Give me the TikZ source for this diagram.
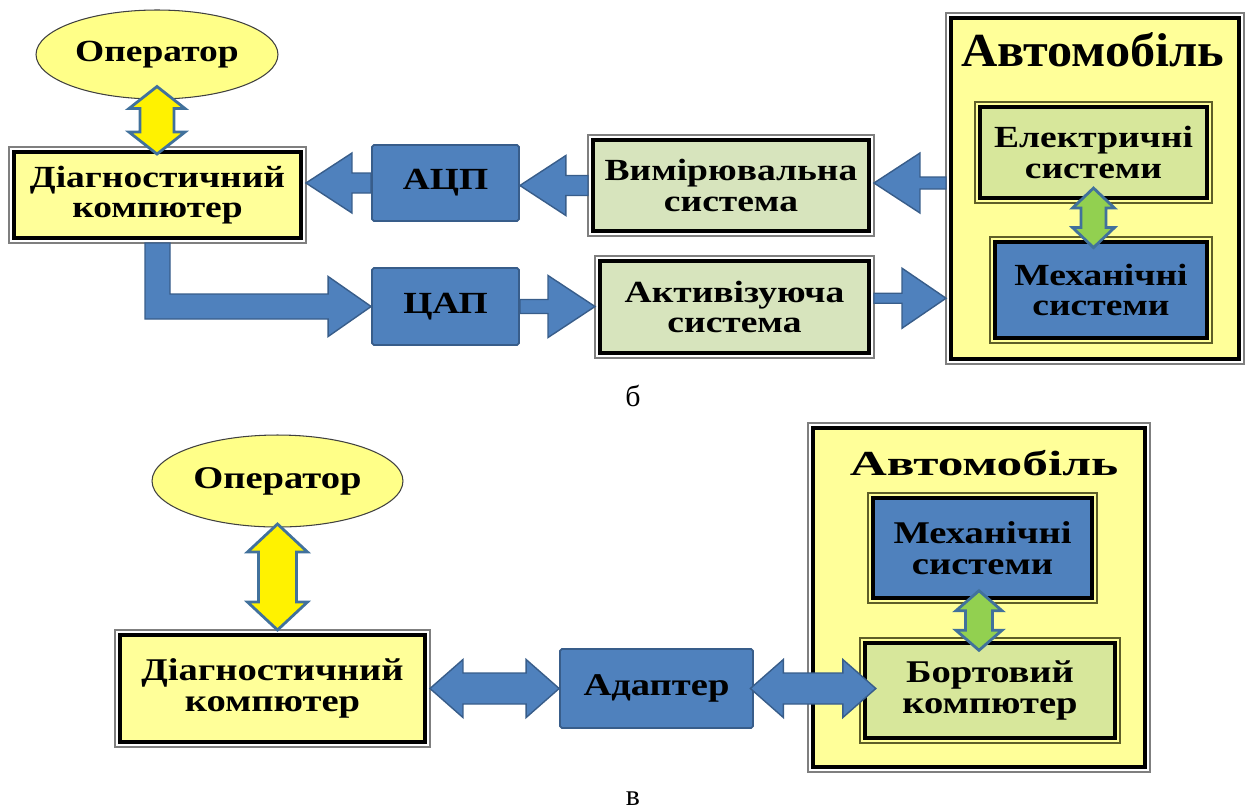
\documentclass[tikz,border=0pt]{standalone}
\usepackage{fontspec}
\setmainfont{Liberation Serif}
\newfontfamily\boxfont{Liberation Serif}[FakeStretch=1.22]
\newfontfamily\carfont{Liberation Serif}[FakeStretch=1.06]
\newfontfamily\carfontb{Liberation Serif}[FakeStretch=1.46]
\usetikzlibrary{shapes.geometric, calc}

\definecolor{boxyellow}{HTML}{FFFF99}
\definecolor{ovalyellow}{HTML}{FFFF88}
\definecolor{blockblue}{HTML}{4F81BD}
\definecolor{edgeblue}{HTML}{385D8A}
\definecolor{arrowedge}{HTML}{41719C}
\definecolor{palegreen}{HTML}{D7E4BD}
\definecolor{limegreen}{HTML}{D7E79B}
\definecolor{brightgreen}{HTML}{92D050}
\definecolor{framegray}{HTML}{7F7F7F}
\definecolor{frameolive}{HTML}{5E5E28}

\def\pxu{0.5691pt}

% block arrows, sizes in px
\newcommand{\harrow}[5]{%
	\draw[barrow] let \p1=(#1), \p2=(#2), \n1={#5*0.5691} in
		(\x1,{\y1+#3*\pxu}) -- ({\x2-\n1 pt},{\y1+#3*\pxu}) -- ({\x2-\n1 pt},{\y1+#4*\pxu})
		-- (\x2,\y1) -- ({\x2-\n1 pt},{\y1-#4*\pxu}) -- ({\x2-\n1 pt},{\y1-#3*\pxu})
		-- (\x1,{\y1-#3*\pxu}) -- cycle;}
\newcommand{\hdarrow}[5]{%
	\draw[barrow] let \p1=(#1), \p2=(#2) in
		(\p1) -- ({\x1+#5*\pxu},{\y1+#4*\pxu}) -- ({\x1+#5*\pxu},{\y1+#3*\pxu})
		-- ({\x2-#5*\pxu},{\y1+#3*\pxu}) -- ({\x2-#5*\pxu},{\y1+#4*\pxu}) -- (\x2,\y1)
		-- ({\x2-#5*\pxu},{\y1-#4*\pxu}) -- ({\x2-#5*\pxu},{\y1-#3*\pxu})
		-- ({\x1+#5*\pxu},{\y1-#3*\pxu}) -- ({\x1+#5*\pxu},{\y1-#4*\pxu}) -- cycle;}
\newcommand{\vdarrow}[6][barrow]{%
	\draw[#1] let \p1=(#2), \p2=(#3) in
		(\p1) -- ({\x1+#5*\pxu},{\y1-#6*\pxu}) -- ({\x1+#4*\pxu},{\y1-#6*\pxu})
		-- ({\x1+#4*\pxu},{\y2+#6*\pxu}) -- ({\x1+#5*\pxu},{\y2+#6*\pxu}) -- (\x1,\y2)
		-- ({\x1-#5*\pxu},{\y2+#6*\pxu}) -- ({\x1-#4*\pxu},{\y2+#6*\pxu})
		-- ({\x1-#4*\pxu},{\y1-#6*\pxu}) -- ({\x1-#5*\pxu},{\y1-#6*\pxu}) -- cycle;}

\begin{document}
\begin{tikzpicture}[x=0.02cm, y=-0.02cm,
		txt/.style={font=\boxfont\bfseries\fontsize{17.5}{17.5}\selectfont, align=center, inner sep=0pt},
		dbl/.style={txt, draw=black, line width=2.3pt, outer sep=2.85pt},
		oval/.style={txt, ellipse, draw=black!75, line width=0.6pt, fill=ovalyellow},
		block/.style={txt, draw=edgeblue, line width=1pt, fill=blockblue, rounded corners=1pt},
		barrow/.style={draw=edgeblue, line width=0.8pt, fill=blockblue},
		yarrow/.style={draw=arrowedge, line width=1.6pt, fill=yellow},
		garrow/.style={draw=arrowedge, line width=1.6pt, fill=brightgreen},
		frame/.style={draw=framegray, line width=0.7pt}]
	\useasboundingbox (0,0) rectangle (1246,809);

	% --- б ---
	\node[dbl, fill=boxyellow, minimum width=5.76cm, minimum height=6.82cm] (car1) at (1095,188.5) {};
	\node (title1) at (1093,50) {\carfont\bfseries\fontsize{27}{29}\selectfont Автомобіль};
	\node[dbl, fill=limegreen, minimum width=4.54cm, minimum height=1.82cm] (elec) at (1093.5,152.5) {Електричні\\системи};
	\node[dbl, fill=blockblue, minimum width=4.24cm, minimum height=1.92cm] (mech1) at (1101,290) {Механічні\\системи};

	\node[oval, minimum width=4.84cm, minimum height=1.78cm] (oper1) at (157,54.5) {Оператор};
	\node[dbl, fill=boxyellow, minimum width=5.74cm, minimum height=1.72cm] (diag1) at (157.5,195) {Діагностичний\\компютер};
	\node[block, minimum width=2.94cm, minimum height=1.52cm] (adc) at (445.5,183) {АЦП};
	\node[dbl, fill=palegreen, minimum width=5.52cm, minimum height=1.82cm] (meas) at (731,185.5) {Вимірювальна\\система};
	\node[block, minimum width=2.94cm, minimum height=1.54cm] (dac) at (445.5,306.5) {ЦАП};
	\node[dbl, fill=palegreen, minimum width=5.38cm, minimum height=1.84cm] (act) at (734.5,307) {Активізуюча\\система};
	\node[anchor=base] (labb) at (633,406) {\fontsize{17}{19}\selectfont б};

	% --- в ---
	\begin{scope}[txt/.append style={font=\boxfont\bfseries\fontsize{18}{18}\selectfont}]
		\node[dbl, fill=boxyellow, minimum width=6.64cm, minimum height=6.78cm] (car2) at (979,597.5) {};
		\node (title2) at (984,463) {\carfontb\bfseries\fontsize{20}{22}\selectfont Автомобіль};
		\node[dbl, fill=blockblue, minimum width=4.38cm, minimum height=2.00cm] (mech2) at (982.5,548) {Механічні\\системи};
		\node[dbl, fill=limegreen, minimum width=5.00cm, minimum height=1.90cm] (board) at (990,690.5) {Бортовий\\компютер};

		\node[oval, minimum width=5.02cm, minimum height=1.84cm] (oper2) at (277.5,481) {Оператор};
		\node[dbl, fill=boxyellow, minimum width=6.10cm, minimum height=2.14cm] (diag2) at (272.5,688.5) {Діагностичний\\компютер};
		\node[block, minimum width=3.86cm, minimum height=1.58cm] (adapt) at (656.5,688.5) {Адаптер};
	\end{scope}
	\node[anchor=base] (labv) at (633,805) {\fontsize{17}{19}\selectfont в};

	% outer thin frames
	\foreach \n in {car1, diag1, meas, act, car2, diag2}
		\draw[frame] (\n.south west) rectangle (\n.north east);
	\foreach \n in {elec, mech1, mech2, board}
		\draw[frame, draw=frameolive] (\n.south west) rectangle (\n.north east);

	% arrows
	\harrow{adc.west}{diag1.east}{10}{30}{-46}
	\harrow{meas.west}{adc.east}{10}{30}{-46}
	\harrow{car1.west |- adc.east}{meas.east}{6}{30}{-46}
	\draw[barrow] let \p1=(diag1.south), \p2=(dac.west) in
		({\x1-12.5*\pxu},\y1) -- ({\x1-12.5*\pxu},{\y2-12.5*\pxu}) -- ({\x2-43*\pxu},{\y2-12.5*\pxu})
		-- ({\x2-43*\pxu},{\y2-30*\pxu}) -- (\p2) -- ({\x2-43*\pxu},{\y2+30*\pxu})
		-- ({\x2-43*\pxu},{\y2+12.5*\pxu}) -- ({\x1+12.5*\pxu},{\y2+12.5*\pxu}) -- ({\x1+12.5*\pxu},\y1) -- cycle;
	\harrow{dac.east}{act.west}{7}{31}{47}
	\harrow{[yshift=5pt]act.east}{car1.west}{5}{30}{44}
	\vdarrow[yarrow]{[yshift=7.4pt]oper1.south}{[yshift=-4pt]diag1.north}{17}{28}{22}
	\vdarrow[garrow]{[yshift=8.5pt]elec.south}{[yshift=-6pt]mech1.north}{12.5}{21}{20}

	\vdarrow[yarrow]{[yshift=2pt]oper2.south}{diag2.north}{19}{30}{28}
	\hdarrow{diag2.east}{adapt.west}{15.5}{29}{33}
	\hdarrow{[xshift=-2pt]adapt.east}{[xshift=9pt]board.west}{15.5}{29}{33}
	\vdarrow[garrow]{[shift={(-2pt,7pt)}]mech2.south}{[yshift=-7pt]board.north}{13.5}{23}{20}
\end{tikzpicture}
\end{document}
